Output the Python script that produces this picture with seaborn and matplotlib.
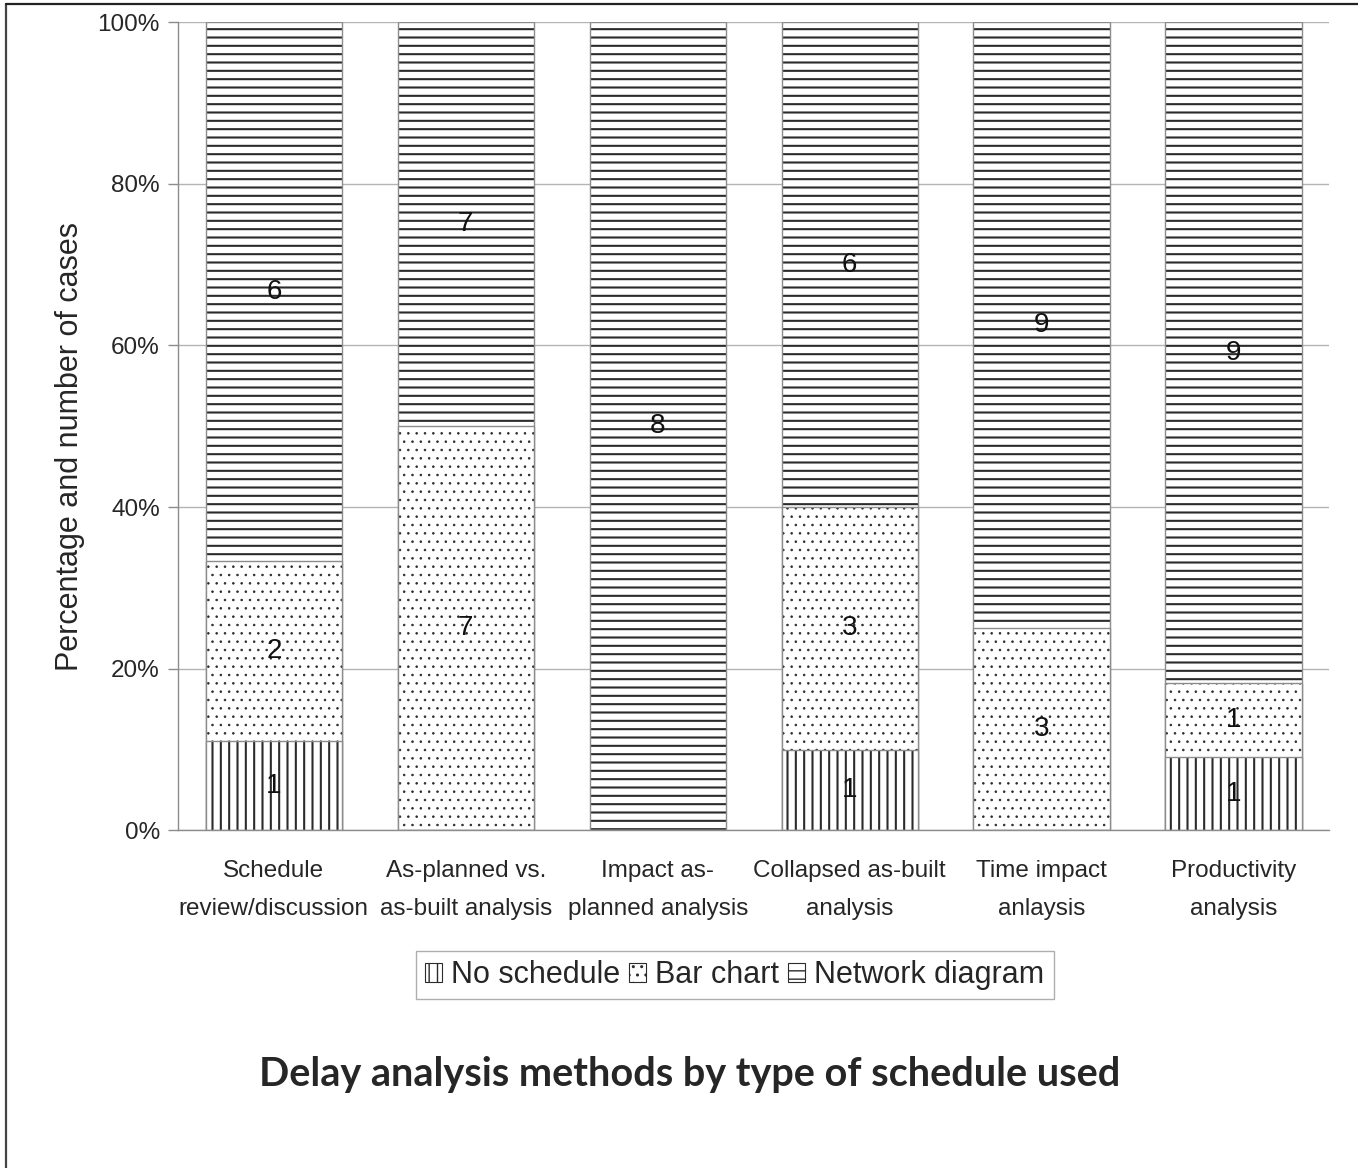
import matplotlib
matplotlib.use("Agg")
import matplotlib.pyplot as plt
from matplotlib.lines import Line2D
from matplotlib.patches import Patch
from matplotlib.ticker import FixedLocator
import seaborn as sns
import pandas as pd
import numpy as np

# Number of cases per delay analysis method, split by schedule type
methods = [
    "Schedule\nreview/discussion",
    "As-planned vs.\nas-built analysis",
    "Impact as-\nplanned analysis",
    "Collapsed as-built\nanalysis",
    "Time impact\nanlaysis",
    "Productivity\nanalysis",
]
no_schedule = [1, 0, 0, 1, 0, 1]
bar_chart = [2, 7, 0, 3, 3, 1]
network_diagram = [6, 7, 8, 6, 9, 9]
series_names = ["No schedule", "Bar chart", "Network diagram"]
y_ticks = [0, 20, 40, 60, 80, 100]

sns.set_style("white")
plt.rcParams["font.family"] = ["Liberation Sans", "DejaVu Sans"]

df = pd.DataFrame({
    "method": methods,
    "no": no_schedule,
    "bar": bar_chart,
    "net": network_diagram,
})
df["total"] = df["no"] + df["bar"] + df["net"]
df["p_no"] = df["no"] / df["total"] * 100
df["p_bar"] = df["bar"] / df["total"] * 100
df["p_net"] = df["net"] / df["total"] * 100
df["cum_no"] = df["p_no"]
df["cum_bar"] = df["p_no"] + df["p_bar"]
df["cum_net"] = df["cum_bar"] + df["p_net"]

fig = plt.figure(figsize=(13.58, 11.68), dpi=100)
ax = fig.add_axes([0.131, 0.289, 0.848, 0.692])

hatch_color = "#2b2b2b"
outline_color = "#8c8c8c"
bar_w = 0.71
# (stacked column, hatch pattern, hatch line width)
layers = [("cum_net", "--", 1.5), ("cum_bar", "..", 0.6), ("cum_no", "||", 1.5)]


def style_hatch(patches, hatch, lw):
    for p in patches:
        p.set_facecolor("white")
        p.set_edgecolor(hatch_color)
        p.set_linewidth(0)
        p.set_hatch(hatch)
        if hasattr(p, "set_hatch_linewidth"):
            p.set_hatch_linewidth(lw)


for col, hatch, hlw in layers:
    n_before = len(ax.patches)
    with plt.rc_context({"hatch.linewidth": hlw}):
        sns.barplot(data=df, x="method", y=col, order=methods, color="white",
                    width=bar_w, ax=ax, saturation=1)
        style_hatch(ax.patches[n_before:], hatch, hlw)
    n_before = len(ax.patches)
    sns.barplot(data=df, x="method", y=col, order=methods, color=outline_color,
                width=bar_w, ax=ax, fill=False, linewidth=1)
    for p in ax.patches[n_before:]:
        p.set_facecolor("none")
        p.set_edgecolor(outline_color)
        p.set_linewidth(1.0)

# Case counts written in the middle of each segment
for i, row in df.iterrows():
    segs = [(row["no"], 0, row["cum_no"]),
            (row["bar"], row["cum_no"], row["cum_bar"]),
            (row["net"], row["cum_bar"], row["cum_net"])]
    for count, lo, hi in segs:
        if count > 0:
            ax.text(i, (lo + hi) / 2, f"{int(count)}", ha="center", va="center",
                    fontsize=20, color="#111111")

ax.set_xlim(-0.5, len(methods) - 0.5)
ax.set_ylim(0, 100)
ax.set_yticks(y_ticks)
ax.set_yticklabels([f"{t}%" for t in y_ticks], fontsize=17.5)
ax.set_xticks(range(len(methods)))
ax.set_xticklabels(methods, fontsize=17.5, linespacing=1.95)
ax.xaxis.set_minor_locator(FixedLocator(np.arange(-0.5, len(methods), 1.0)))
ax.tick_params(axis="x", which="major", length=0, pad=21)
ax.tick_params(axis="x", which="minor", length=8, color="#8c8c8c", width=1)
ax.tick_params(axis="y", which="major", length=7, color="#8c8c8c", width=1,
               pad=6, left=True)
ax.set_xlabel("")
ax.set_ylabel("Percentage and number of cases", fontsize=22)
ax.yaxis.set_label_coords(-0.081, 0.475)

ax.yaxis.grid(True, color="#b4b4b4", linewidth=1)
ax.set_axisbelow(True)
for side in ["top", "right"]:
    ax.spines[side].set_visible(False)
for side in ["left", "bottom"]:
    ax.spines[side].set_color("#8c8c8c")
    ax.spines[side].set_linewidth(1)

handles = []
for h, hlw in [("||", 1.5), ("..", 0.6), ("--", 1.5)]:
    with plt.rc_context({"hatch.linewidth": hlw}):
        hp = Patch(facecolor="white", edgecolor=hatch_color, hatch=h, linewidth=0.8)
    handles.append(hp)
leg = fig.legend(handles, series_names, loc="center", ncol=3,
                 bbox_to_anchor=(0.541, 0.165), fontsize=22, frameon=True,
                 fancybox=False, handlelength=0.55, handleheight=0.55,
                 handletextpad=0.3, columnspacing=0.3, borderpad=0.3)
leg.get_frame().set_edgecolor("#9a9a9a")
leg.get_frame().set_linewidth(1)

fig.text(0.508, 0.080, "Delay analysis methods by type of schedule used",
         ha="center", va="center", fontsize=28.5, fontweight="bold",
         family=["Lato", "DejaVu Sans"])

# Frame lines along the left and top edges of the figure
fig.add_artist(Line2D([0.0045, 0.0045], [0.0, 0.9965], transform=fig.transFigure,
                      color="#444444", linewidth=1.6))
fig.add_artist(Line2D([0.0045, 1.0], [0.9965, 0.9965], transform=fig.transFigure,
                      color="#222222", linewidth=1.6))

fig.savefig("out.png", dpi=100, facecolor="white")
